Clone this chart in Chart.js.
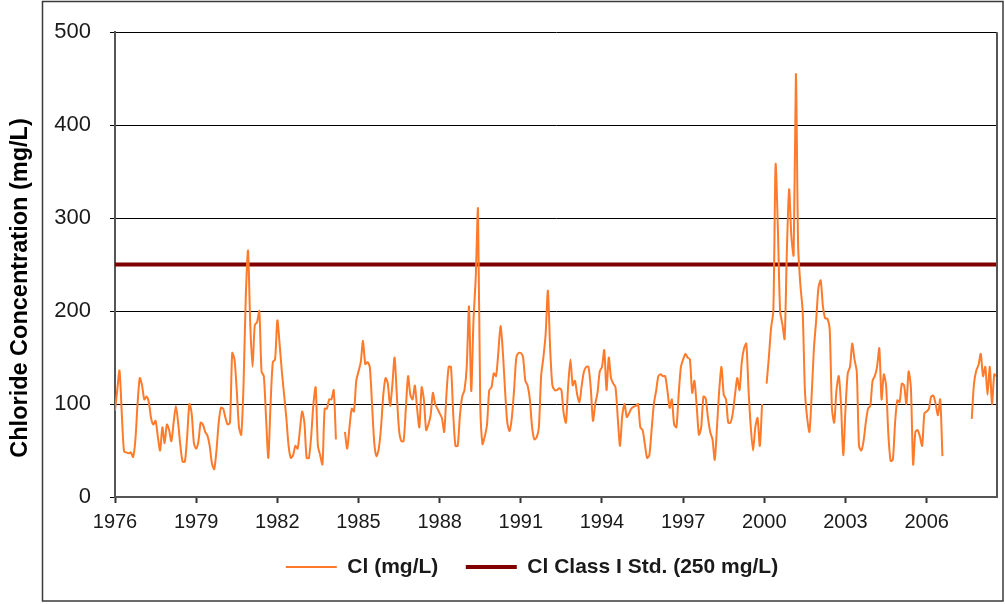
<!DOCTYPE html>
<html><head><meta charset="utf-8">
<script src="https://cdn.jsdelivr.net/npm/chart.js@4"></script>
<style>html,body{margin:0;padding:0;background:#fff;overflow:hidden}canvas{display:block}</style>
</head><body>
<canvas id="c" width="1005" height="604"></canvas>
<script>
// ---- data ----
const startYear = 1976;               // first monthly sample: Jan 1976
const xRange = [1976, 2008.6];        // x axis extent (years)
const xTickYears = [1976, 1979, 1982, 1985, 1988, 1991, 1994, 1997, 2000, 2003, 2006];
const yTickStep = 100;
const yRange = [0, 500];
const stdValue = 250;
const seriesLabels = ['Cl (mg/L)', 'Cl Class I Std. (250 mg/L)'];
const yTitle = 'Chloride Concentration (mg/L)';
// monthly chloride values (mg/L), null = no sample
const clMonthly = [
  93,115,136,90,49,48,47,48,43,60,100,128,        // 1976
  120,105,108,102,85,78,82,65,50,75,58,78,        // 1977
  72,60,80,98,80,55,38,38,65,100,90,58,           // 1978
  52,60,80,78,70,66,55,36,30,50,80,96,            // 1979
  95,85,78,80,155,148,115,75,67,120,215,265,      // 1980
  185,140,185,188,200,135,130,85,42,100,145,148,  // 1981
  190,165,135,110,85,55,42,45,55,52,72,92,        // 1982
  80,42,42,65,100,118,55,45,35,95,95,105,         // 1983
  105,115,62,null,null,null,70,52,75,95,92,125,   // 1984
  135,145,168,143,145,140,100,58,44,52,75,110,    // 1985
  128,122,98,120,150,110,72,60,60,95,130,110,     // 1986
  105,120,95,75,118,105,72,78,88,112,100,95,      // 1987
  90,85,70,110,140,140,90,55,55,88,108,115,       // 1988
  140,205,114,190,236,310,100,57,65,78,115,118,   // 1989
  133,130,155,184,157,115,80,71,85,115,150,155,   // 1990
  155,150,125,120,105,75,62,64,75,130,150,175,    // 1991
  222,160,120,115,115,117,115,90,80,120,148,120,  // 1992
  125,110,102,120,135,140,140,118,82,100,112,135, // 1993
  140,158,115,150,128,122,118,85,55,88,100,86,    // 1994
  90,95,97,98,100,75,72,57,42,45,72,100,          // 1995
  114,130,132,130,130,115,96,105,78,75,110,140,   // 1996
  148,154,150,148,112,125,98,67,75,108,106,85,    // 1997
  70,62,40,75,115,140,110,105,80,80,90,110,       // 1998
  128,115,145,160,165,115,75,50,75,85,55,100,     // 1999
  null,122,150,182,200,358,290,200,186,170,265,331, // 2000
  280,260,455,270,228,200,115,85,70,110,160,190,  // 2001
  225,233,205,192,192,180,95,80,115,130,100,45,   // 2002
  95,133,140,165,148,135,55,50,60,80,95,98,       // 2003
  125,130,140,160,105,132,120,68,39,40,80,104,    // 2004
  102,122,120,100,135,118,35,70,72,65,55,90,      // 2005
  92,95,108,109,100,88,105,44,null,null,null,null, // 2006
  null,null,null,null,null,null,null,null,84,122,136,142, // 2007
  154,130,140,110,140,100,132,130                 // 2008
];

// ---- styles ----
const FONT = '"Liberation Sans", Arial, sans-serif';
const TEXT = '#1a1a1a';
const ORANGE = '#FF7A2A';
const MAROON = '#800000';

const decor = {
  id: 'decor',
  afterLayout(chart) {
    // centre the legend row under the framed area, as in the original
    if (chart.legend) { chart.legend.left += 17; }
  },
  beforeDraw(chart) {
    const c = chart.ctx;
    c.save();
    c.fillStyle = '#fff';
    c.fillRect(0, 0, chart.width, chart.height);
    c.strokeStyle = '#3a3a3a';
    c.lineWidth = 1.5;
    c.strokeRect(42.5, 1.5, 960.5, 599.5);
    c.restore();
  },
  afterDraw(chart) {
    const c = chart.ctx, a = chart.chartArea;
    c.save();
    c.strokeStyle = '#555';
    c.lineWidth = 2;
    c.beginPath();
    c.moveTo(a.right, a.top);
    c.lineTo(a.right, a.bottom);
    c.stroke();
    c.translate(21, 288);
    c.rotate(-Math.PI / 2);
    c.fillStyle = '#000';
    c.font = 'bold 23.5px ' + FONT;
    c.textAlign = 'center';
    c.textBaseline = 'middle';
    c.fillText(yTitle, 0, 0);
    c.restore();
  }
};

new Chart(document.getElementById('c'), {
  type: 'line',
  data: {
    datasets: [
      {
        label: seriesLabels[0],
        data: clMonthly.map((v, i) => ({x: startYear + i / 12, y: v})),
        borderColor: ORANGE,
        backgroundColor: ORANGE,
        borderWidth: 2,
        pointRadius: 0,
        pointStyle: 'line',
        tension: 0.25,
        spanGaps: false
      },
      {
        label: seriesLabels[1],
        data: xRange.map(x => ({x: x, y: stdValue})),
        borderColor: MAROON,
        backgroundColor: MAROON,
        borderWidth: 4,
        pointRadius: 0,
        pointStyle: 'line'
      }
    ]
  },
  options: {
    responsive: false,
    animation: false,
    devicePixelRatio: 1,
    layout: {padding: {left: 50, right: 8, top: 31, bottom: 16.5}},
    plugins: {
      legend: {
        position: 'bottom',
        labels: {
          usePointStyle: true,
          pointStyle: 'line',
          pointStyleWidth: 51,
          padding: 27.5,
          color: TEXT,
          font: {family: FONT, size: 21, weight: 'bold'}
        }
      },
      tooltip: {enabled: false}
    },
    scales: {
      x: {
        type: 'linear',
        min: xRange[0],
        max: xRange[1],
        afterBuildTicks: s => { s.ticks = xTickYears.map(v => ({value: v})); },
        afterFit: s => { s.height = 32; },
        ticks: {
          callback: v => String(v),
          autoSkip: false,
          maxRotation: 0,
          padding: 7,
          color: TEXT,
          font: {family: FONT, size: 20}
        },
        grid: {drawOnChartArea: false, drawTicks: true, tickLength: 6, color: '#333', tickWidth: 2},
        border: {color: '#555', width: 2}
      },
      y: {
        min: yRange[0],
        max: yRange[1],
        afterFit: s => { s.width = 65; },
        ticks: {
          stepSize: yTickStep,
          padding: 19,
          color: TEXT,
          font: {family: FONT, size: 22}
        },
        grid: {color: '#000', lineWidth: 1, drawTicks: true, tickLength: 5},
        border: {color: '#555', width: 2}
      }
    }
  },
  plugins: [decor]
});
</script>
</body></html>
